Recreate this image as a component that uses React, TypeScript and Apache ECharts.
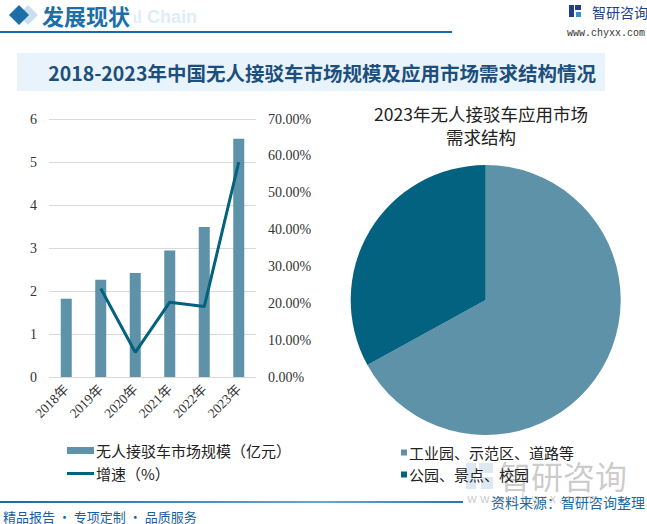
import React, { useEffect, useRef } from "react";
import * as echarts from "echarts";

const years = ["2018年", "2019年", "2020年", "2021年", "2022年", "2023年"];
const marketSize = [1.82, 2.26, 2.42, 2.94, 3.49, 5.54];
const growthRate = [null, 24.0, 6.7, 20.3, 19.1, 58.3];
const leftTicks = { min: 0, max: 6, interval: 1 };
const rightTicks = { min: 0, max: 70, interval: 10 };
const pieNames = ["工业园、示范区、道路等", "公园、景点、校园"];
const pieValues = [67, 33];

const barName = "无人接驳车市场规模（亿元）";
const lineName = "增速（%）";

const CJK = "'Noto Sans CJK SC', 'Microsoft YaHei', sans-serif";
const SERIF = "'Liberation Serif', 'Noto Sans CJK SC', serif";

export default function App() {
  const ref = useRef<HTMLDivElement>(null);
  useEffect(() => {
    if (!ref.current) return;
    const chart = echarts.init(ref.current, undefined, { renderer: "svg" });
    const light = "#5e92a8";
    const dark = "#03627f";
    const blue = "#1a6aa6";
    chart.setOption({
      animation: false,
      backgroundColor: "#ffffff",
      title: {
        text: "2023年无人接驳车应用市场\n需求结构",
        left: 476,
        top: 97,
        textAlign: "center",
        textStyle: {
          fontFamily: CJK,
          fontSize: 17.5,
          fontWeight: "normal",
          color: "#222",
          lineHeight: 23,
        },
      },
      grid: { left: 49, right: 391, top: 119, bottom: 147 },
      xAxis: {
        type: "category",
        data: years,
        axisLine: { show: false },
        axisTick: { show: false },
        axisLabel: {
          rotate: 45,
          margin: 10,
          fontFamily: SERIF,
          fontSize: 13.5,
          color: "#333",
        },
      },
      yAxis: [
        {
          type: "value",
          ...leftTicks,
          axisLine: { show: false },
          axisTick: { show: false },
          splitLine: { lineStyle: { color: "#d9d9d9", width: 1 } },
          axisLabel: { margin: 12, fontFamily: SERIF, fontSize: 14, color: "#333" },
        },
        {
          type: "value",
          ...rightTicks,
          position: "right",
          axisLine: { show: false },
          axisTick: { show: false },
          splitLine: { show: false },
          axisLabel: {
            margin: 12,
            fontFamily: SERIF,
            fontSize: 14,
            color: "#333",
            formatter: (v: number) => v.toFixed(2) + "%",
          },
        },
      ],
      legend: [
        {
          data: [{ name: barName, icon: "rect" }],
          left: 62,
          top: 438,
          itemWidth: 27,
          itemHeight: 7,
          itemGap: 4,
          textStyle: { fontFamily: CJK, fontSize: 15, color: "#222", padding: [0, 0, 0, -3] },
        },
        {
          data: [{ name: lineName, icon: "rect" }],
          left: 62,
          top: 461,
          itemWidth: 27,
          itemHeight: 3,
          textStyle: { fontFamily: CJK, fontSize: 15, color: "#222", padding: [0, 0, 0, -3] },
        },
        {
          data: pieNames.map((n) => ({ name: n, icon: "rect" })),
          orient: "vertical",
          left: 396,
          top: 440,
          itemWidth: 6,
          itemHeight: 6,
          itemGap: 7,
          textStyle: { fontFamily: CJK, fontSize: 15, color: "#222", padding: [0, 0, 0, -3] },
        },
      ],
      series: [
        {
          name: barName,
          type: "bar",
          data: marketSize,
          barWidth: 11,
          itemStyle: { color: light },
        },
        {
          name: lineName,
          type: "line",
          yAxisIndex: 1,
          data: growthRate,
          symbol: "none",
          lineStyle: { color: dark, width: 3 },
          itemStyle: { color: dark },
        },
        {
          type: "pie",
          center: [485.7, 300],
          radius: 135,
          startAngle: 90,
          clockwise: true,
          label: { show: false },
          labelLine: { show: false },
          emphasis: { disabled: true },
          data: pieNames.map((n, i) => ({
            name: n,
            value: pieValues[i],
            itemStyle: { color: i === 0 ? light : dark },
          })),
        },
      ],
      graphic: [
        // header
        { type: "rect", shape: { x: 0, y: 31, width: 452, height: 2 }, style: { fill: blue }, z: 1 },
        {
          type: "polygon",
          shape: { points: [[28, 5], [38, 15], [28, 25], [18, 15]] },
          style: { fill: "#c9dff0" },
        },
        {
          type: "polygon",
          shape: { points: [[19, 5], [29, 15], [19, 25], [9, 15]] },
          style: { fill: "#1b6ea8" },
        },
        {
          type: "text",
          x: 61,
          y: 17,
          z: 1,
          style: {
            text: "Industrial Chain",
            fontFamily: "'Liberation Sans', Arial, sans-serif",
            fontWeight: "bold",
            fontSize: 18,
            fill: "#deedf8",
            verticalAlign: "middle",
          },
        },
        { type: "rect", z: 2, shape: { x: 40, y: 2, width: 94, height: 28 }, style: { fill: "#ffffff" } },
        {
          type: "text",
          x: 42,
          y: 15,
          z: 3,
          style: {
            text: "发展现状",
            fontFamily: CJK,
            fontWeight: "bold",
            fontSize: 22,
            fill: "#1b6ea8",
            verticalAlign: "middle",
          },
        },
        // logo top right
        { type: "rect", shape: { x: 569, y: 5, width: 5, height: 12 }, style: { fill: "#1f3f86" } },
        { type: "rect", shape: { x: 575, y: 5, width: 6, height: 5 }, style: { fill: "#1f3f86" } },
        { type: "rect", shape: { x: 576, y: 12, width: 5, height: 5 }, style: { fill: "#3a8fd6" } },
        {
          type: "text",
          x: 592,
          y: 12,
          style: { text: "智研咨询", fontFamily: CJK, fontSize: 14, fill: "#1f3f86", verticalAlign: "middle" },
        },
        {
          type: "text",
          x: 645,
          y: 33,
          style: {
            text: "www.chyxx.com",
            fontFamily: "'Liberation Mono', monospace",
            fontSize: 10,
            fill: "#333",
            align: "right",
            verticalAlign: "middle",
          },
        },
        // title band
        { type: "rect", shape: { x: 17, y: 53, width: 588, height: 38 }, style: { fill: "#e8f3fb" }, z: -1 },
        {
          type: "text",
          x: 322,
          y: 72,
          style: {
            text: "2018-2023年中国无人接驳车市场规模及应用市场需求结构情况",
            fontFamily: CJK,
            fontWeight: "bold",
            fontSize: 19.5,
            fill: "#1d4f7c",
            align: "center",
            verticalAlign: "middle",
          },
        },
        // watermark bottom right
        { type: "rect", z: -1, shape: { x: 466, y: 463, width: 10, height: 26 }, style: { fill: "rgba(160,190,220,0.35)" } },
        { type: "rect", z: -1, shape: { x: 479, y: 463, width: 14, height: 10 }, style: { fill: "rgba(160,190,220,0.35)" } },
        { type: "rect", z: -1, shape: { x: 481, y: 477, width: 12, height: 12 }, style: { fill: "rgba(160,190,220,0.35)" } },
        {
          type: "text",
          x: 563,
          y: 475,
          z: -1,
          style: {
            text: "智研咨询",
            fontFamily: CJK,
            fontSize: 32,
            fill: "rgba(140,140,140,0.45)",
            align: "center",
            verticalAlign: "middle",
          },
        },
        {
          type: "text",
          x: 467,
          y: 497,
          z: -1,
          style: {
            text: "w w w . c h y x x . c o m",
            fontFamily: CJK,
            fontSize: 12.5,
            fill: "rgba(140,140,140,0.45)",
            verticalAlign: "middle",
          },
        },
        // bottom
        {
          type: "rect",
          shape: { x: 0, y: 501, width: 463, height: 2 },
          style: {
            fill: new echarts.graphic.LinearGradient(0, 0, 1, 0, [
              { offset: 0, color: "#1a6aa6" },
              { offset: 0.7, color: "#6ea4cf" },
              { offset: 1, color: "#2a75b0" },
            ]),
          },
        },
        {
          type: "text",
          x: 3,
          y: 516,
          style: {
            text: "精品报告 · 专项定制 · 品质服务",
            fontFamily: CJK,
            fontSize: 13,
            fill: "#1a5fa0",
            verticalAlign: "middle",
          },
        },
        {
          type: "text",
          x: 645,
          y: 502,
          style: {
            text: "资料来源：智研咨询整理",
            fontFamily: CJK,
            fontSize: 14,
            fill: "#1a6aa6",
            align: "right",
            verticalAlign: "middle",
          },
        },
      ],
    });
    return () => chart.dispose();
  }, []);
  return (
    <div
      ref={ref}
      style={{ position: "fixed", left: 0, top: 0, width: 647, height: 524 }}
    />
  );
}
